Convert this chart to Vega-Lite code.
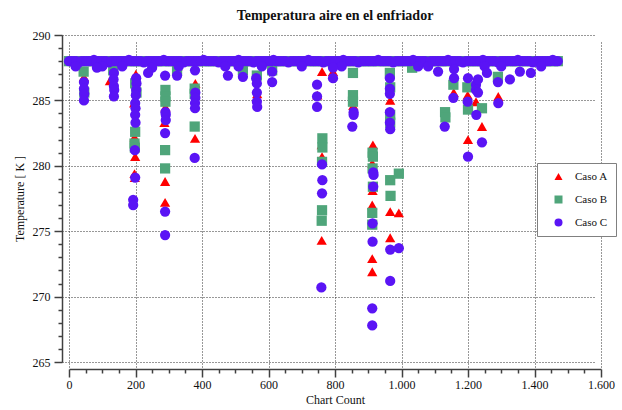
{
  "$schema": "https://vega.github.io/schema/vega-lite/v6.json",
  "width": 532,
  "height": 327,
  "autosize": {"type": "none"},
  "padding": {"left": 69, "top": 35, "right": 21, "bottom": 48},
  "background": "white",
  "title": {"text": "Temperatura aire en el enfriador", "font": "Liberation Serif", "fontSize": 14, "fontWeight": "bold", "color": "#111", "frame": "group", "anchor": "middle", "offset": 6},
  "config": {
    "view": {"stroke": null},
    "axis": {"domainColor": "#404040", "domainWidth": 1.5, "tickColor": "#404040", "tickWidth": 1.5, "gridColor": "#303030", "gridDash": [1, 2], "gridWidth": 1, "labelFont": "Liberation Serif", "labelFontSize": 12, "labelColor": "#111", "titleFont": "Liberation Serif", "titleFontSize": 12, "titleFontWeight": "normal", "titleColor": "#111", "offset": 7, "labelOverlap": false, "labelFlush": false, "labelBound": false},
    "legend": {"orient": "none", "legendX": 468, "legendY": 128, "labelFont": "Liberation Serif", "labelFontSize": 11, "labelColor": "#111", "symbolSize": 64, "strokeColor": "#808080", "fillColor": "white", "padding": 8, "rowPadding": 11, "symbolOffset": 8, "labelOffset": 11, "cornerRadius": 0}
  },
  "data": {"values": [
    {"x":0,"A":288,"B":288,"C":288},{"x":15,"A":288,"B":288,"C":288},{"x":30,"A":288,"B":288,"C":287.9},{"x":45,"A":288,"B":288,"C":288},{"x":60,"A":288,"B":288,"C":288},{"x":75,"A":288,"B":288,"C":288.1},{"x":90,"A":288,"B":288,"C":288},{"x":105,"A":288,"B":288,"C":288},{"x":120,"A":288,"B":288,"C":287.9},{"x":135,"A":288,"B":288,"C":288},
    {"x":150,"A":288,"B":288,"C":288},{"x":165,"A":288,"B":288,"C":288},{"x":180,"A":288,"B":288,"C":288.1},{"x":195,"A":288,"B":288,"C":288},{"x":210,"A":288,"B":288,"C":288},{"x":225,"A":288,"B":288,"C":287.9},{"x":240,"A":288,"B":288,"C":288},{"x":255,"A":288,"B":288,"C":288},{"x":270,"A":288,"B":288,"C":288},{"x":285,"A":288,"B":288,"C":288.1},
    {"x":300,"A":288,"B":288,"C":288},{"x":315,"A":288,"B":288,"C":288},{"x":330,"A":288,"B":288,"C":288},{"x":345,"A":288,"B":288,"C":287.9},{"x":360,"A":288,"B":288,"C":288},{"x":375,"A":288,"B":288,"C":288},{"x":390,"A":288,"B":288,"C":288},{"x":405,"A":288,"B":288,"C":288.1},{"x":420,"A":288,"B":288,"C":288},{"x":435,"A":288,"B":288,"C":288},
    {"x":450,"A":288,"B":288,"C":287.9},{"x":465,"A":288,"B":288,"C":288},{"x":480,"A":288,"B":288,"C":288},{"x":495,"A":288,"B":288,"C":288},{"x":510,"A":288,"B":288,"C":288.1},{"x":525,"A":288,"B":288,"C":288},{"x":540,"A":288,"B":288,"C":288},{"x":555,"A":288,"B":288,"C":287.9},{"x":570,"A":288,"B":288,"C":288},{"x":585,"A":288,"B":288,"C":288},
    {"x":600,"A":288,"B":288,"C":288},{"x":615,"A":288,"B":288,"C":288.1},{"x":630,"A":288,"B":288,"C":288},{"x":645,"A":288,"B":288,"C":288},{"x":660,"A":288,"B":288,"C":287.9},{"x":675,"A":288,"B":288,"C":288},{"x":690,"A":288,"B":288,"C":288},{"x":705,"A":288,"B":288,"C":288},{"x":720,"A":288,"B":288,"C":288.1},{"x":735,"A":288,"B":288,"C":288},
    {"x":750,"A":288,"B":288,"C":288},{"x":765,"A":288,"B":288,"C":287.9},{"x":780,"A":288,"B":288,"C":288},{"x":795,"A":288,"B":288,"C":288},{"x":810,"A":288,"B":288,"C":288},{"x":825,"A":288,"B":288,"C":288.1},{"x":840,"A":288,"B":288,"C":288},{"x":855,"A":288,"B":288,"C":288},{"x":870,"A":288,"B":288,"C":287.9},{"x":885,"A":288,"B":288,"C":288},
    {"x":900,"A":288,"B":288,"C":288},{"x":915,"A":288,"B":288,"C":288},{"x":930,"A":288,"B":288,"C":288.1},{"x":945,"A":288,"B":288,"C":288},{"x":960,"A":288,"B":288,"C":288},{"x":975,"A":288,"B":288,"C":287.9},{"x":990,"A":288,"B":288,"C":288},{"x":1005,"A":288,"B":288,"C":288},{"x":1020,"A":288,"B":288,"C":288},{"x":1035,"A":288,"B":288,"C":288.1},
    {"x":1050,"A":288,"B":288,"C":288},{"x":1065,"A":288,"B":288,"C":288},{"x":1080,"A":288,"B":288,"C":287.9},{"x":1095,"A":288,"B":288,"C":288},{"x":1110,"A":288,"B":288,"C":288},{"x":1125,"A":288,"B":288,"C":288},{"x":1140,"A":288,"B":288,"C":288.1},{"x":1155,"A":288,"B":288,"C":288},{"x":1170,"A":288,"B":288,"C":288},{"x":1185,"A":288,"B":288,"C":287.9},
    {"x":1200,"A":288,"B":288,"C":288},{"x":1215,"A":288,"B":288,"C":288},{"x":1230,"A":288,"B":288,"C":288},{"x":1245,"A":288,"B":288,"C":288.1},{"x":1260,"A":288,"B":288,"C":288},{"x":1275,"A":288,"B":288,"C":288},{"x":1290,"A":288,"B":288,"C":287.9},{"x":1305,"A":288,"B":288,"C":288},{"x":1320,"A":288,"B":288,"C":288},{"x":1335,"A":288,"B":288,"C":288},
    {"x":1350,"A":288,"B":288,"C":288.1},{"x":1365,"A":288,"B":288,"C":288},{"x":1380,"A":288,"B":288,"C":288},{"x":1395,"A":288,"B":288,"C":287.9},{"x":1410,"A":288,"B":288,"C":288},{"x":1425,"A":288,"B":288,"C":288},{"x":1440,"A":288,"B":288,"C":288},{"x":1455,"A":288,"B":288,"C":288.1},{"x":1470,"A":288,"B":288,"C":288},
    {"x":7,"C":288},{"x":22,"C":288},{"x":37,"C":288},{"x":52,"C":288},{"x":67,"C":288},{"x":82,"C":288},{"x":97,"C":288},{"x":112,"C":288},{"x":127,"C":288},{"x":142,"C":288},
    {"x":157,"C":288},{"x":172,"C":288},{"x":187,"C":288},{"x":202,"C":288},{"x":217,"C":288},{"x":232,"C":288},{"x":247,"C":288},{"x":262,"C":288},{"x":277,"C":288},{"x":292,"C":288},
    {"x":307,"C":288},{"x":322,"C":288},{"x":337,"C":288},{"x":352,"C":288},{"x":367,"C":288},{"x":382,"C":288},{"x":397,"C":288},{"x":412,"C":288},{"x":427,"C":288},{"x":442,"C":288},
    {"x":457,"C":288},{"x":472,"C":288},{"x":487,"C":288},{"x":502,"C":288},{"x":517,"C":288},{"x":532,"C":288},{"x":547,"C":288},{"x":562,"C":288},{"x":577,"C":288},{"x":592,"C":288},
    {"x":607,"C":288},{"x":622,"C":288},{"x":637,"C":288},{"x":652,"C":288},{"x":667,"C":288},{"x":682,"C":288},{"x":697,"C":288},{"x":712,"C":288},{"x":727,"C":288},{"x":742,"C":288},
    {"x":757,"C":288},{"x":772,"C":288},{"x":787,"C":288},{"x":802,"C":288},{"x":817,"C":288},{"x":832,"C":288},{"x":847,"C":288},{"x":862,"C":288},{"x":877,"C":288},{"x":892,"C":288},
    {"x":907,"C":288},{"x":922,"C":288},{"x":937,"C":288},{"x":952,"C":288},{"x":967,"C":288},{"x":982,"C":288},{"x":997,"C":288},{"x":1012,"C":288},{"x":1027,"C":288},{"x":1042,"C":288},
    {"x":1057,"C":288},{"x":1072,"C":288},{"x":1087,"C":288},{"x":1102,"C":288},{"x":1117,"C":288},{"x":1132,"C":288},{"x":1147,"C":288},{"x":1162,"C":288},{"x":1177,"C":288},{"x":1192,"C":288},
    {"x":1207,"C":288},{"x":1222,"C":288},{"x":1237,"C":288},{"x":1252,"C":288},{"x":1267,"C":288},{"x":1282,"C":288},{"x":1297,"C":288},{"x":1312,"C":288},{"x":1327,"C":288},{"x":1342,"C":288},
    {"x":1357,"C":288},{"x":1372,"C":288},{"x":1387,"C":288},{"x":1402,"C":288},{"x":1417,"C":288},{"x":1432,"C":288},{"x":1447,"C":288},{"x":1462,"C":288},
    {"x":20,"C":287.6},{"x":100,"C":287.6},{"x":160,"C":287.6},{"x":250,"C":287.5},{"x":330,"C":287.6},{"x":470,"C":287.6},{"x":510,"C":287.6},{"x":580,"C":287.6},{"x":700,"C":287.6},{"x":820,"C":287.6},{"x":1050,"C":287.6},{"x":1080,"C":287.6},{"x":1250,"C":287.6},{"x":1300,"C":287.6},{"x":1420,"C":287.6},
    {"x":44,"B":287.2},{"x":45,"A":286.8},{"x":46,"B":285.6},{"x":45,"C":286.4},{"x":45,"C":285.9},{"x":46,"C":285.5},{"x":45,"C":285.0},
    {"x":84,"C":287.5},
    {"x":133,"B":287.3},{"x":123,"A":286.5},{"x":135,"C":287.1},{"x":134,"C":286.6},{"x":135,"C":286.1},{"x":136,"C":285.8},{"x":135,"C":285.3},
    {"x":199,"B":286.3},{"x":203,"B":285.6},{"x":199,"B":282.6},{"x":197,"B":281.7},{"x":198,"B":281.4},
    {"x":201,"A":287.0},{"x":196,"A":284.8},{"x":197,"A":282.2},{"x":199,"A":280.7},{"x":197,"A":279.4},{"x":198,"A":279.1},
    {"x":202,"C":286.7},{"x":203,"C":286.3},{"x":202,"C":285.8},{"x":201,"C":285.4},{"x":199,"C":284.8},{"x":200,"C":284.4},{"x":199,"C":283.9},{"x":200,"C":283.3},{"x":198,"C":281.2},{"x":199,"C":279.1},{"x":193,"C":277.4},{"x":193,"C":277.0},
    {"x":238,"C":287.1},
    {"x":289,"C":286.9},{"x":290,"C":284.1},{"x":291,"C":283.9},{"x":291,"C":283.5},{"x":289,"C":282.5},{"x":289,"C":276.5},{"x":289,"C":274.7},
    {"x":290,"B":285.8},{"x":290,"B":285.3},{"x":290,"B":284.9},{"x":289,"B":281.2},{"x":289,"B":279.8},
    {"x":290,"A":284.5},{"x":287,"A":283.3},{"x":289,"A":278.8},{"x":289,"A":277.2},
    {"x":325,"B":287.3},{"x":326,"A":287.6},{"x":325,"C":286.9},
    {"x":379,"C":287.3},{"x":380,"A":286.3},{"x":378,"B":285.9},{"x":378,"B":285.5},{"x":380,"C":285.6},{"x":380,"C":285.2},{"x":379,"C":284.8},{"x":379,"C":284.4},{"x":378,"B":283.0},{"x":379,"A":282.1},{"x":378,"C":280.6},
    {"x":478,"C":286.9},
    {"x":523,"B":287.3},{"x":523,"C":286.8},
    {"x":565,"B":286.9},{"x":563,"C":286.7},{"x":565,"C":286.3},{"x":566,"A":285.5},{"x":565,"C":285.6},{"x":565,"C":284.9},{"x":566,"C":284.5},
    {"x":611,"B":287.3},{"x":611,"C":287.2},{"x":611,"C":286.4},
    {"x":746,"C":286.2},{"x":747,"A":285.4},{"x":746,"C":285.3},{"x":746,"C":284.5},
    {"x":761,"A":287.2},{"x":762,"B":282.1},{"x":762,"B":281.4},{"x":761,"B":280.3},{"x":761,"B":276.6},{"x":760,"B":275.8},{"x":760,"A":281.6},{"x":761,"A":280.7},{"x":760,"A":274.3},{"x":761,"C":280.1},{"x":762,"C":278.9},{"x":761,"C":277.9},{"x":759,"C":270.7},
    {"x":794,"C":287.5},{"x":794,"A":287.2},{"x":794,"C":286.7},
    {"x":854,"B":287.1},{"x":854,"B":285.4},{"x":854,"B":284.9},{"x":855,"A":284.6},{"x":856,"C":284.1},{"x":856,"C":283.9},{"x":852,"C":283.0},
    {"x":914,"A":281.6},{"x":912,"A":280.2},{"x":913,"A":278.1},{"x":912,"A":277.0},{"x":912,"A":272.9},{"x":912,"A":271.9},
    {"x":913,"B":281.0},{"x":914,"B":280.7},{"x":913,"B":279.8},{"x":914,"B":278.4},{"x":912,"B":276.4},{"x":912,"B":275.5},
    {"x":915,"C":279.5},{"x":916,"C":279.3},{"x":915,"C":278.4},{"x":913,"C":275.6},{"x":913,"C":274.2},{"x":912,"C":269.1},{"x":912,"C":267.8},
    {"x":965,"B":287.1},{"x":965,"C":286.7},{"x":966,"B":286.0},{"x":965,"C":285.9},{"x":965,"C":285.5},{"x":966,"A":285.0},{"x":965,"C":284.1},{"x":966,"B":283.9},{"x":966,"B":283.3},{"x":965,"C":283.3},{"x":966,"C":282.8},{"x":966,"B":278.9},{"x":967,"B":277.7},{"x":966,"A":276.5},{"x":966,"A":274.5},{"x":966,"C":273.6},{"x":966,"C":271.2},
    {"x":992,"B":279.4},{"x":992,"A":276.4},{"x":992,"C":273.7},
    {"x":1032,"B":287.5},
    {"x":1110,"C":287.2},
    {"x":1131,"B":284.1},{"x":1132,"B":283.7},{"x":1130,"C":283.0},
    {"x":1158,"C":287.4},{"x":1158,"C":286.7},{"x":1156,"B":286.2},{"x":1157,"A":285.6},{"x":1156,"C":285.2},
    {"x":1200,"C":286.7},{"x":1198,"B":286.0},{"x":1199,"A":285.4},{"x":1199,"C":284.9},{"x":1200,"B":284.3},{"x":1200,"A":282.0},{"x":1200,"C":280.7},
    {"x":1224,"C":286.2},{"x":1224,"C":285.8},{"x":1224,"A":284.9},{"x":1225,"C":283.9},
    {"x":1230,"C":286.6},{"x":1230,"C":285.6},
    {"x":1242,"B":284.4},{"x":1242,"A":283.0},{"x":1242,"C":281.8},
    {"x":1257,"C":287.1},
    {"x":1290,"B":286.8},{"x":1290,"C":286.4},{"x":1291,"A":285.3},{"x":1291,"C":284.8},
    {"x":1326,"C":286.6},{"x":1356,"C":287.2},{"x":1389,"C":287.1}
  ]},
  "transform": [{"fold": ["A", "B", "C"], "as": ["serie", "y"]}],
  "mark": {"type": "point", "filled": true, "opacity": 1, "size": 105},
  "encoding": {
    "x": {"field": "x", "type": "quantitative", "scale": {"domain": [0, 1600], "nice": false, "zero": false},
      "axis": {"title": "Chart Count", "values": [0,50,100,150,200,250,300,350,400,450,500,550,600,650,700,750,800,850,900,950,1000,1050,1100,1150,1200,1250,1300,1350,1400,1450,1500,1550,1600],
        "labelExpr": "datum.value % 200 === 0 ? replace(format(datum.value, ','), ',', '.') : ''",
        "tickSize": {"condition": {"test": "datum.value % 200 === 0", "value": 8}, "value": 4},
        "gridOpacity": {"condition": {"test": "datum.value % 200 === 0", "value": 1}, "value": 0},
        "labelPadding": 2, "titlePadding": 4}},
    "y": {"field": "y", "type": "quantitative", "scale": {"domain": [265, 290], "nice": false, "zero": false},
      "axis": {"title": "Temperature [ K ]", "values": [265,266,267,268,269,270,271,272,273,274,275,276,277,278,279,280,281,282,283,284,285,286,287,288,289,290],
        "labelExpr": "datum.value % 5 === 0 ? datum.label : ''",
        "tickSize": {"condition": {"test": "datum.value % 5 === 0", "value": 8}, "value": 4},
        "gridOpacity": {"condition": {"test": "datum.value % 5 === 0", "value": 1}, "value": 0},
        "labelPadding": 4, "titlePadding": 6}},
    "color": {"field": "serie", "type": "nominal", "scale": {"domain": ["A", "B", "C"], "range": ["#ff0000", "#4fa57a", "#5a14f5"]},
      "legend": {"title": null, "labelExpr": "'Caso ' + datum.label"}},
    "shape": {"field": "serie", "type": "nominal", "scale": {"domain": ["A", "B", "C"], "range": ["triangle-up", "square", "circle"]},
      "legend": {"title": null, "labelExpr": "'Caso ' + datum.label"}},
    "order": {"field": "serie", "sort": "ascending"}
  }
}
